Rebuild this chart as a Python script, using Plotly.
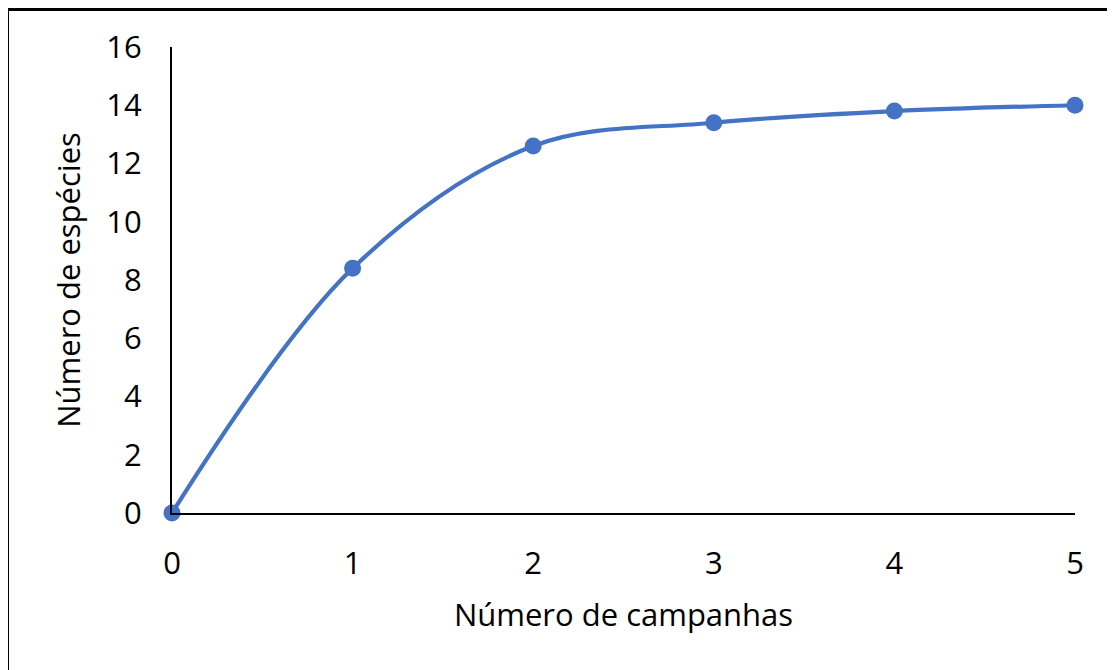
import plotly.graph_objects as go

campanhas = [0, 1, 2, 3, 4, 5]
especies = [0, 8.4, 12.6, 13.4, 13.8, 14.0]
y_ticks = [0, 2, 4, 6, 8, 10, 12, 14, 16]
x_ticks = [0, 1, 2, 3, 4, 5]

OFF = 8  # page body margin
W, H = 1115 - OFF, 670 - OFF
L, T = 172 - OFF, 47 - OFF
R = W - (1075 - OFF)
B = H - (513 - OFF)
pw, ph = W - L - R, H - T - B

def px_x(p):
    return (p - OFF - L) / pw

def px_y(p):
    return (H - B - (p - OFF)) / ph

font = "Open Sans, Liberation Sans, sans-serif"

fig = go.Figure()
fig.add_trace(go.Scatter(
    x=campanhas, y=especies, mode="lines+markers",
    line=dict(color="#4472C4", width=4.2, shape="spline", smoothing=1.0),
    marker=dict(color="#4472C4", size=17),
    cliponaxis=False, showlegend=False,
))

fig.update_layout(
    width=W, height=H,
    margin=dict(l=L, r=R, t=T, b=B),
    paper_bgcolor="white", plot_bgcolor="white",
    font=dict(family=font, size=31, color="black"),
    xaxis=dict(
        range=[0, 5], tickvals=x_ticks, ticktext=[str(v) for v in x_ticks],
        showgrid=False, zeroline=False, showline=True, linecolor="black", linewidth=2,
        ticks="", ticklabelstandoff=22,
        title=dict(text="Número de campanhas", font=dict(size=31), standoff=22),
    ),
    yaxis=dict(
        range=[0, 16], tickvals=y_ticks, ticktext=[str(v) for v in y_ticks],
        showgrid=False, zeroline=False, showline=True, linecolor="black", linewidth=2,
        ticks="", ticklabelstandoff=22,
        title=dict(text="Número de espécies", font=dict(size=31), standoff=16),
    ),
    shapes=[
        dict(type="line", xref="paper", yref="paper",
             x0=px_x(5), x1=px_x(1120), y0=px_y(9.5), y1=px_y(9.5),
             line=dict(color="black", width=3)),
        dict(type="line", xref="paper", yref="paper",
             x0=px_x(7.5), x1=px_x(7.5), y0=px_y(8), y1=px_y(675),
             line=dict(color="black", width=3)),
    ],
)

fig.write_html("out.html")
